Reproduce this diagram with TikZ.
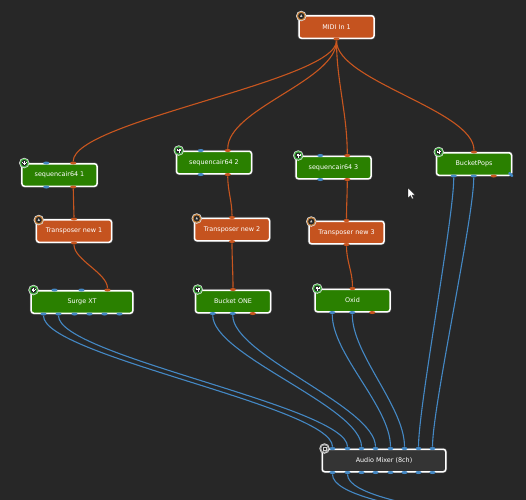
\documentclass[tikz,border=0pt]{standalone}
\usepackage{fontspec}
\setmainfont{DejaVu Sans}
\usepackage{xcolor}
\usetikzlibrary{positioning,calc,shapes.geometric}
\definecolor{canvas}{HTML}{272727}
\definecolor{synth_green}{HTML}{2A8000}
\definecolor{fx_orange}{HTML}{C5531F}
\definecolor{mixer_gray}{HTML}{343434}
\definecolor{audio_blue}{HTML}{4488C4}
\definecolor{midi_orange}{HTML}{C8561F}

\begin{document}
\begin{tikzpicture}[
    x=0.2mm, y=-0.2mm,
    node distance=0.9cm,
    rack_box/.style={draw=white, line width=0.3mm, rounded corners=0.5mm, text=white, inner sep=0pt,
        preaction={draw=black!70, line width=0.55mm},
        font=\fontsize{3.65}{4.4}\selectfont, minimum width=1.5cm, minimum height=0.45cm},
    plug_box/.style={rack_box, fill=synth_green},
    fx_box/.style={rack_box, fill=fx_orange},
    mix_box/.style={rack_box, fill=mixer_gray},
    blue_port/.style={ellipse, fill=audio_blue, inner sep=0pt, minimum width=1.25mm, minimum height=0.6mm},
    red_port/.style={blue_port, fill=midi_orange},
    blue_wire/.style={draw=audio_blue, line width=0.22mm, out=270, in=90, distance=8mm},
    red_wire/.style={blue_wire, draw=midi_orange},
    short_wire/.style={red_wire, distance=3mm},
    badge/.pic={
        \fill[white!85!black] (0,0) circle (1.05mm);
        \fill[#1] (0,0) circle (0.88mm);
        \fill[black!85] (0,0) circle (0.62mm);
    },
    plug_badge/.pic={
        \pic {badge=green!45!gray};
        \draw[white, line width=0.06mm] (-1.6,-1.5) -- (-1.6,0) (0,-2) -- (0,2) (1.6,-1.5) -- (1.6,0) (-1.6,0) -- (1.6,0);
    },
    fx_badge/.pic={
        \pic {badge=orange!55!gray};
        \fill[white!80!black] (-1.2,0.8) -- (0,-1.6) -- (1.2,0.8) -- cycle;
    },
    mix_badge/.pic={
        \pic {badge=gray!70};
        \draw[white!80!black, line width=0.06mm] (-1.6,-1.3) rectangle (1.6,1.3);
    }
]

\useasboundingbox (0,0) rectangle (526,500);
\fill[canvas] (0,0) rectangle (526,500);

\node (midi) [fx_box] at (336.5,27) {MIDI In 1};

\node (seqA) [plug_box] at (59.5,175) {sequencair64 1};
\node (transA) [fx_box, below=0.64cm of seqA, xshift=0.29cm] {Transposer new 1};
\node (surge) [plug_box, below=0.94cm of transA, xshift=0.16cm, minimum width=2.03cm] {Surge XT};

\node (seqB) [plug_box] at (214,162.5) {sequencair64 2};
\node (transB) [fx_box, below=0.86cm of seqB, xshift=0.36cm] {Transposer new 2};
\node (bucket) [plug_box, below=0.96cm of transB, xshift=0.02cm] {Bucket ONE};

\node (seqC) [plug_box] at (333.5,167.5) {sequencair64 3};
\node (transC) [fx_box, below=0.82cm of seqC, xshift=0.26cm] {Transposer new 3};
\node (oxid) [plug_box, below=0.88cm of transC, xshift=0.12cm] {Oxid};

\node (pops) [plug_box] at (474,164) {BucketPops};
\node (mixer) [mix_box, minimum width=2.47cm] at (384,460.5) {Audio Mixer (8ch)};

\foreach \unit in {seqA,seqB,seqC} {
    \node (\unit InB) [blue_port] at ($(\unit.north west)+(25,0)$) {};
    \node (\unit InM) [red_port] at ($(\unit.north west)+(52,0)$) {};
    \node (\unit OutB) [blue_port] at ($(\unit.south west)+(25,0)$) {};
    \node (\unit OutM) [red_port] at ($(\unit.south west)+(52,0)$) {};
}
\foreach \unit in {transA,transB,transC,bucket,oxid,pops}
    \node (\unit InM) [red_port] at (\unit.north) {};
\foreach \unit in {transA,transB,transC,midi}
    \node (\unit OutM) [red_port] at (\unit.south) {};
\foreach \unit in {bucket,oxid,pops} {
    \node (\unit OutA) [blue_port] at ($(\unit.south west)+(18,0)$) {};
    \node (\unit OutB) [blue_port] at ($(\unit.south west)+(38,0)$) {};
    \node (\unit OutM) [red_port] at ($(\unit.south west)+(58,0)$) {};
}
\node (popsOutC) [blue_port, rotate=-45] at ($(pops.south east)+(-1.5,-1.5)$) {};

\node (surgeInA) [blue_port] at ($(surge.north west)+(24,0)$) {};
\node (surgeInB) [blue_port] at ($(surge.north west)+(51,0)$) {};
\node (surgeInM) [red_port] at ($(surge.north west)+(77,0)$) {};
\foreach \name/\dx in {A/13,B/28,C/44,D/59,E/74,F/89}
    \node (surgeOut\name) [blue_port] at ($(surge.south west)+(\dx,0)$) {};

\foreach \name/\dx in {A/11,B/26,C/40,D/54,E/69,F/83,G/97,H/111} {
    \node (mixIn\name) [blue_port] at ($(mixer.north west)+(\dx,0)$) {};
    \node (mixOut\name) [blue_port] at ($(mixer.south west)+(\dx,0)$) {};
}

\coordinate (mixEndA) at (590,562);
\coordinate (mixEndB) at (618,562);

\draw [red_wire] (midiOutM) to (seqAInM);
\draw [red_wire] (midiOutM) to (seqBInM);
\draw [red_wire] (midiOutM) to (seqCInM);
\draw [red_wire] (midiOutM) to (popsInM);
\draw [short_wire] (seqAOutM) to (transAInM);
\draw [short_wire] (seqBOutM) to (transBInM);
\draw [short_wire] (seqCOutM) to (transCInM);
\draw [short_wire] (transAOutM) to (surgeInM);
\draw [short_wire] (transBOutM) to (bucketInM);
\draw [short_wire] (transCOutM) to (oxidInM);

\draw [blue_wire] (surgeOutA) to (mixInA);
\draw [blue_wire] (surgeOutB) to (mixInB);
\draw [blue_wire] (bucketOutA) to (mixInC);
\draw [blue_wire] (bucketOutB) to (mixInD);
\draw [blue_wire] (oxidOutA) to (mixInE);
\draw [blue_wire] (oxidOutB) to (mixInF);
\draw [blue_wire] (popsOutA) to (mixInG);
\draw [blue_wire] (popsOutB) to (mixInH);
\draw [blue_wire] (mixOutA) to (mixEndA);
\draw [blue_wire] (mixOutB) to (mixEndB);

\pic at ($(midi.north west)+(3,1)$) {fx_badge};
\pic at ($(transA.north west)+(3,1)$) {fx_badge};
\pic at ($(transB.north west)+(3,1)$) {fx_badge};
\pic at ($(transC.north west)+(3,1)$) {fx_badge};
\foreach \unit in {seqA,seqB,seqC,surge,bucket,oxid,pops}
    \pic at ($(\unit.north west)+(3,0)$) {plug_badge};
\pic at ($(mixer.north west)+(3,0)$) {mix_badge};

\fill[white, draw=black, line width=0.05mm] (408,188) -- (408,198) -- (410.5,195.5) -- (412,199) -- (413.5,198.4) -- (412,195) -- (415,195) -- cycle;

\end{tikzpicture}
\end{document}
